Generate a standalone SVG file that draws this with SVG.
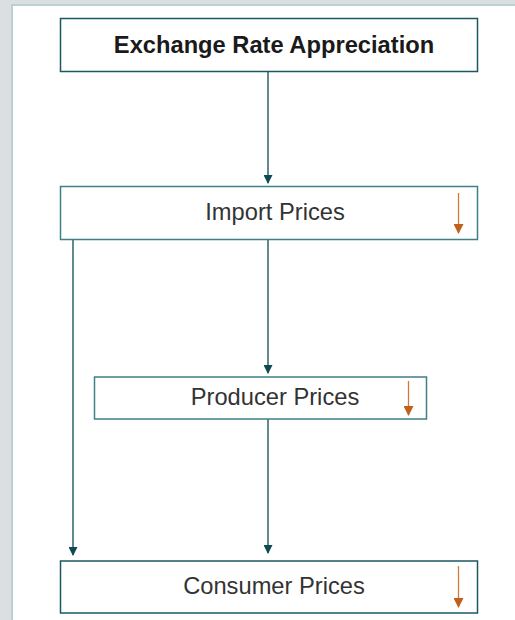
<svg xmlns="http://www.w3.org/2000/svg" width="515" height="620" viewBox="0 0 515 620">
<defs>
<style>
.box{fill:#ffffff;stroke:#1a5960;stroke-width:1.5}
.box2{fill:#ffffff;stroke:#3f7f86;stroke-width:1.5}
.lbl{font-family:"Liberation Sans",Arial,Helvetica,sans-serif;font-size:23.7px;fill:#333333;text-anchor:middle}
.bold{font-weight:bold;fill:#1a1a1a}
.conn{stroke:#0d4a53;stroke-width:1.3;fill:none}
.down{stroke:#cf7a3c;stroke-width:1.3;fill:none}
</style>
<marker id="ah" markerWidth="9" markerHeight="9" refX="8" refY="4.5" orient="auto" markerUnits="userSpaceOnUse">
<path d="M0,0 L9,4.5 L0,9 Z" fill="#0d4a53"/>
</marker>
<marker id="oh" markerWidth="10" markerHeight="10" refX="9" refY="5" orient="auto" markerUnits="userSpaceOnUse">
<path d="M0,0 L10,5 L0,10 Z" fill="#c0601a"/>
</marker>
</defs>
<rect x="0" y="0" width="515" height="620" fill="#dcdfe0"/>
<rect x="12" y="5" width="520" height="630" fill="#ffffff" stroke="#b9d0d4" stroke-width="2"/>
<g id="connectors">
<line class="conn" x1="268" y1="71" x2="268" y2="183" marker-end="url(#ah)"/>
<line class="conn" x1="268" y1="240" x2="268" y2="373" marker-end="url(#ah)"/>
<line class="conn" x1="73" y1="240" x2="73" y2="555" marker-end="url(#ah)"/>
<line class="conn" x1="268" y1="419" x2="268" y2="553" marker-end="url(#ah)"/>
</g>
<g id="exchange">
<rect class="box" x="60.5" y="18.5" width="417" height="53"/>
<text class="lbl bold" x="274" y="53">Exchange Rate Appreciation</text>
</g>
<g id="import">
<rect class="box2" x="60.5" y="186.5" width="417" height="53"/>
<text class="lbl" x="275" y="220">Import Prices</text>
<line class="down" x1="458.5" y1="193" x2="458.5" y2="233" marker-end="url(#oh)"/>
</g>
<g id="producer">
<rect class="box2" x="94.5" y="377" width="332" height="42"/>
<text class="lbl" x="275" y="405">Producer Prices</text>
<line class="down" x1="408.5" y1="381" x2="408.5" y2="415" marker-end="url(#oh)"/>
</g>
<g id="consumer">
<rect class="box" x="60.5" y="561" width="417" height="52"/>
<text class="lbl" x="274" y="594">Consumer Prices</text>
<line class="down" x1="458.5" y1="566" x2="458.5" y2="607" marker-end="url(#oh)"/>
</g>
</svg>
